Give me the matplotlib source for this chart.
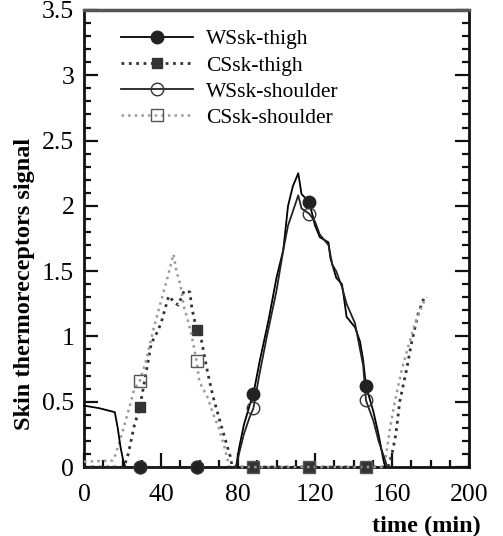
import matplotlib
matplotlib.use("Agg")
import matplotlib.pyplot as plt
from matplotlib.ticker import MultipleLocator, FormatStrFormatter

plt.rcParams['font.family'] = ['Liberation Serif', 'DejaVu Serif']

# times (min) where the symbols sit on every curve
marker_times = [29, 58.5, 88, 117, 146.5]

# WSsk-thigh (solid, filled circles)
ws_thigh_t = [0, 8, 16, 17.5, 19, 20.5, 21.5, 29, 58.5, 79, 80.5, 83, 86, 88, 91.4, 95.8,
              100, 103.5, 106, 108.5, 111.3, 113, 117, 120, 122.5, 127, 128, 131, 134, 135,
              136.4, 140.8, 143.4, 145, 146.5, 150.4, 153, 155.6, 156.5]
ws_thigh_v = [0.47, 0.45, 0.42, 0.3, 0.15, 0.04, 0, 0, 0, 0, 0.14, 0.32, 0.47, 0.56, 0.82, 1.12,
              1.45, 1.66, 2.0, 2.15, 2.25, 2.09, 2.03, 1.85, 1.76, 1.72, 1.6, 1.45, 1.4, 1.3,
              1.15, 1.07, 0.96, 0.82, 0.62, 0.42, 0.25, 0.05, 0]

# CSsk-thigh (dotted, filled squares)
cs_thigh_t = [0, 20.8, 23, 26, 29, 32, 35, 37, 40, 44, 47, 49, 52, 55, 56, 58.5, 61, 64, 67,
              72, 76, 77, 88, 117, 146.5, 158, 160, 162, 164, 167.5, 170, 173.5, 177]
cs_thigh_v = [0, 0, 0.1, 0.31, 0.46, 0.7, 0.95, 1.0, 1.1, 1.31, 1.26, 1.24, 1.35, 1.34, 1.22,
              1.05, 0.97, 0.74, 0.54, 0.28, 0.08, 0, 0, 0, 0, 0, 0.1, 0.25, 0.5, 0.74, 0.94,
              1.17, 1.31]

# WSsk-shoulder (solid, open circles)
ws_sh_t = [0, 29, 58.5, 79, 80.5, 83, 86, 88, 91, 95, 100, 103.5, 106, 109, 111.3, 113, 117,
           120, 122.5, 127, 129, 131, 134, 136.4, 140.8, 143.4, 145, 146.5, 150.4, 153, 156.5,
           157.5]
ws_sh_v = [0, 0, 0, 0, 0.1, 0.25, 0.38, 0.45, 0.7, 1.0, 1.35, 1.66, 1.85, 1.98, 2.08, 1.98,
           1.94, 1.88, 1.78, 1.7, 1.55, 1.5, 1.38, 1.25, 1.1, 0.9, 0.78, 0.51, 0.35, 0.2,
           0.05, 0]

# CSsk-shoulder (light dotted, open squares)
cs_sh_t = [0, 15, 16.5, 20, 24, 26, 29, 32, 36, 40, 43, 46.5, 48, 50, 52, 53.5, 56, 58.5, 60,
           64, 67, 70, 73, 75.5, 88, 117, 146.5, 155.5, 157, 159, 161.6, 165, 168, 172, 176, 178]
cs_sh_v = [0.04, 0.05, 0.1, 0.27, 0.48, 0.59, 0.66, 0.8, 1.05, 1.27, 1.43, 1.63, 1.5, 1.4,
           1.22, 1.15, 1.0, 0.81, 0.65, 0.54, 0.41, 0.3, 0.15, 0, 0, 0, 0, 0, 0.1, 0.3, 0.51,
           0.74, 0.9, 1.1, 1.25, 1.3]


def marks(t):
    return [t.index(m) for m in marker_times if m in t]


fig = plt.figure(figsize=(5.03, 5.36), dpi=100)
ax = fig.add_axes([84 / 503, 69 / 536, 385 / 503, 457 / 536])

ax.plot(ws_thigh_t, ws_thigh_v, '-', color='black', lw=1.3, marker='o', ms=9,
        mfc='#222222', mec='#222222', markevery=marks(ws_thigh_t), clip_on=False,
        label='WSsk-thigh', zorder=4)
ax.plot(cs_thigh_t, cs_thigh_v, ':', color='#333333', lw=2.0, marker='s', ms=7.5,
        mfc='#333333', mec='#333333', markevery=marks(cs_thigh_t), clip_on=False,
        label='CSsk-thigh', zorder=3)
ax.plot(ws_sh_t, ws_sh_v, '-', color='#222222', lw=1.3, marker='o', ms=9,
        mfc='none', mec='#333333', mew=1.0, markevery=marks(ws_sh_t), clip_on=False,
        label='WSsk-shoulder', zorder=4)
ax.plot(cs_sh_t, cs_sh_v, ':', color='#9a9a9a', lw=1.8, marker='s', ms=8,
        mfc='none', mec='#555555', mew=1.0, markevery=marks(cs_sh_t), clip_on=False,
        label='CSsk-shoulder', zorder=3)

ax.set_xlim(0, 200)
ax.set_ylim(0, 3.5)
ax.xaxis.set_major_locator(MultipleLocator(40))
ax.xaxis.set_minor_locator(MultipleLocator(10))
ax.yaxis.set_major_locator(MultipleLocator(0.5))
ax.yaxis.set_minor_locator(MultipleLocator(0.1))
ax.yaxis.set_major_formatter(FormatStrFormatter('%g'))

ax.tick_params(which='both', direction='in', top=False, right=True, labelsize=18.5,
               width=1.6, color='#111111')
ax.tick_params(which='major', length=10)
ax.tick_params(which='minor', length=5)
ax.tick_params(axis='x', pad=12)
ax.tick_params(axis='y', pad=7)

for side in ['left', 'right', 'bottom']:
    ax.spines[side].set_linewidth(2)
    ax.spines[side].set_color('#111111')
ax.spines['top'].set_linewidth(2.5)
ax.spines['top'].set_color('#555555')

ax.set_xlabel('time (min)', fontsize=17.5, fontweight='bold')
ax.xaxis.set_label_coords(0.888, -0.106)
ax.set_ylabel('Skin thermoreceptors signal', fontsize=17.5, fontweight='bold')
ax.yaxis.set_label_coords(-0.128, 0.40)

leg = ax.legend(loc='upper left', bbox_to_anchor=(0.045, 1.0), frameon=False,
                fontsize=15.5, handlelength=3.35, numpoints=1, labelspacing=0.28,
                handletextpad=0.6)

fig.savefig('out.png', dpi=100)
